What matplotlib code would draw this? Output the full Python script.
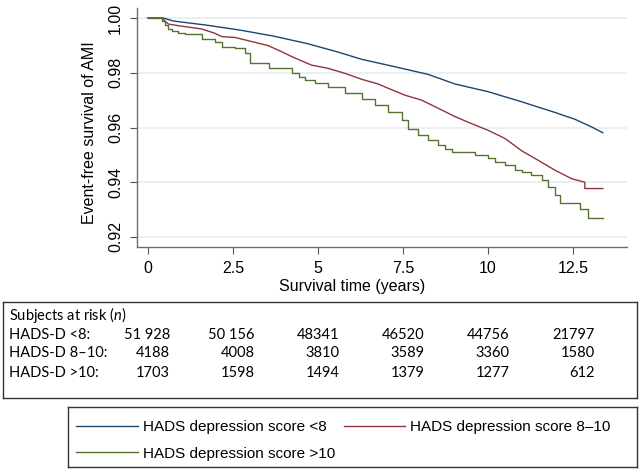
import matplotlib
matplotlib.use("Agg")
import matplotlib.pyplot as plt
import matplotlib.transforms as mtransforms

# Kaplan-Meier style curves
t_lt8 = [0, 0.45, 0.75, 1.72, 2.7, 3.69, 4.67, 5.55, 6.29, 7.26, 8.24,
         9.03, 10.0, 10.99, 11.97, 12.56, 13.05, 13.38]
s_lt8 = [1.0, 1.0, 0.9989, 0.9974, 0.9956, 0.9934, 0.9907, 0.9877, 0.9849,
         0.9822, 0.9794, 0.9759, 0.9731, 0.9694, 0.9655, 0.963, 0.9602, 0.9581]

t_8_10 = [0, 0.4, 0.6, 0.89, 1.58, 1.97, 2.17, 2.56, 3.15, 3.54, 3.93, 4.23, 4.62,
          4.81, 5.3, 5.79, 6.29, 6.77, 7.07, 7.56, 8.05, 8.54, 9.03, 9.52, 10.0,
          10.5, 10.99, 11.48, 11.97, 12.46, 12.85, 12.85, 13.38]
s_8_10 = [1.0, 1.0, 0.9978, 0.9972, 0.996, 0.9944, 0.9932, 0.9929, 0.9911, 0.9899,
          0.9877, 0.9859, 0.9838, 0.9828, 0.9816, 0.9798, 0.9776, 0.9759, 0.9743,
          0.9718, 0.97, 0.967, 0.964, 0.9614, 0.959, 0.956, 0.9515, 0.948, 0.9444,
          0.9413, 0.94, 0.9377, 0.9377]

t_gt10 = [0, 0.42, 0.5, 0.6, 0.7, 0.89, 1.09, 1.6, 1.97, 2.17, 2.56, 2.85, 3.0,
          3.56, 4.23, 4.45, 4.62, 4.91, 5.3, 5.79, 6.29, 6.68, 7.07, 7.46, 7.66,
          7.95, 8.24, 8.54, 8.74, 8.93, 9.62, 10.0, 10.2, 10.5, 10.79, 10.99, 11.28,
          11.58, 11.77, 11.97, 12.12, 12.7, 12.95, 13.38]
s_gt10 = [1.0, 0.999, 0.9974, 0.996, 0.9952, 0.9944, 0.994, 0.9922, 0.9913, 0.9895,
          0.9889, 0.9871, 0.9834, 0.9816, 0.98, 0.9785, 0.9774, 0.9764, 0.9749,
          0.9725, 0.9703, 0.9682, 0.9658, 0.9627, 0.9596, 0.9572, 0.9556, 0.9535,
          0.9523, 0.9511, 0.9499, 0.949, 0.9474, 0.9462, 0.9444, 0.9438, 0.9427,
          0.9408, 0.9384, 0.9354, 0.9325, 0.9303, 0.9269, 0.9269]

# Numbers at risk table
risk_times = [0, 2.5, 5, 7.5, 10, 12.5]
risk_labels = ["HADS-D <8:", "HADS-D 8\u201310:", "HADS-D >10:"]
risk_lt8 = ["51 928", "50 156", "48341", "46520", "44756", "21797"]
risk_8_10 = ["4188", "4008", "3810", "3589", "3360", "1580"]
risk_gt10 = ["1703", "1598", "1494", "1379", "1277", "612"]

legend_labels = ["HADS depression score <8", "HADS depression score 8\u201310",
                 "HADS depression score >10"]
colors = ["#1a476f", "#90353b", "#55752f"]

plt.rcParams['font.family'] = ['Liberation Sans', 'DejaVu Sans']
plt.rcParams['mathtext.fontset'] = 'custom'
plt.rcParams['mathtext.it'] = 'Lato:italic'

W, H = 642, 471
fig = plt.figure(figsize=(W / 100, H / 100), dpi=100)

# main plot
ax = fig.add_axes([137 / W, 1 - 247 / H, 490 / W, 239 / H])
l1, = ax.plot(t_lt8, s_lt8, color=colors[0], lw=1.0)
l2, = ax.plot(t_8_10, s_8_10, color=colors[1], lw=1.0)
l3, = ax.plot(t_gt10, s_gt10, color=colors[2], lw=1.0, drawstyle='steps-post')

ax.set_xlim(-0.3235, 14.09)
ax.set_ylim(0.91634, 1.00366)
ax.set_xticks(risk_times)
ax.set_xticklabels(["0", "2.5", "5", "7.5", "10", "12.5"])
ax.set_yticks([0.92, 0.94, 0.96, 0.98, 1.00])
ax.set_yticklabels(["0.92", "0.94", "0.96", "0.98", "1.00"])
ax.grid(axis='y', color='#e6eef0', lw=1.2)
ax.set_axisbelow(True)
for s in ['top', 'right']:
    ax.spines[s].set_visible(False)
for s in ['left', 'bottom']:
    ax.spines[s].set_color('#6e6e6e')
    ax.spines[s].set_linewidth(1.0)
ax.tick_params(axis='both', length=5, width=0.8, color='#555555', labelsize=11.5, pad=5)
plt.setp(ax.get_yticklabels(), rotation=90, va='center')

ax.set_xlabel("Survival time (years)", fontsize=11.5, va='center')
ax.xaxis.set_label_coords(0.44, -0.167)
ax.set_ylabel("Event-free survival of AMI", fontsize=11.5, va='center')
ax.yaxis.set_label_coords(-0.096, 0.477)

# at-risk table
tab = fig.add_axes([3 / W, 1 - 398 / H, 634 / W, 96 / H])
tab.set_xticks([])
tab.set_yticks([])
for s in tab.spines.values():
    s.set_color('#333333')
    s.set_linewidth(1.0)
trans = mtransforms.blended_transform_factory(ax.transData, tab.transAxes)
tfont = dict(family=['Lato', 'DejaVu Sans'], fontsize=10.5)
tab.text(0.0095, 0.865, "Subjects at risk ($n$)", transform=tab.transAxes,
         va='center', ha='left', **tfont)
row_y = [0.656, 0.469, 0.26]
for lab, vals, y in zip(risk_labels, [risk_lt8, risk_8_10, risk_gt10], row_y):
    tab.text(0.0095, y, lab, transform=tab.transAxes, va='center', ha='left', **tfont)
    for t, v in zip(risk_times, vals):
        tab.text(t + 0.64, y, v, transform=trans, va='center', ha='right', **tfont)

# legend box
lax = fig.add_axes([68 / W, 1 - 467 / H, 569 / W, 60 / H])
lax.set_xticks([])
lax.set_yticks([])
for s in lax.spines.values():
    s.set_color('#333333')
    s.set_linewidth(1.0)
lax.legend([l1, l3, l2], [legend_labels[0], legend_labels[2], legend_labels[1]],
           ncol=2, loc='upper left', bbox_to_anchor=(0, 1 - 5 / 60), frameon=False,
           fontsize=11, handlelength=4.0, handletextpad=0.33, columnspacing=0.6,
           borderpad=0.55, labelspacing=0.8, borderaxespad=0)

fig.savefig("out.png", dpi=100)
